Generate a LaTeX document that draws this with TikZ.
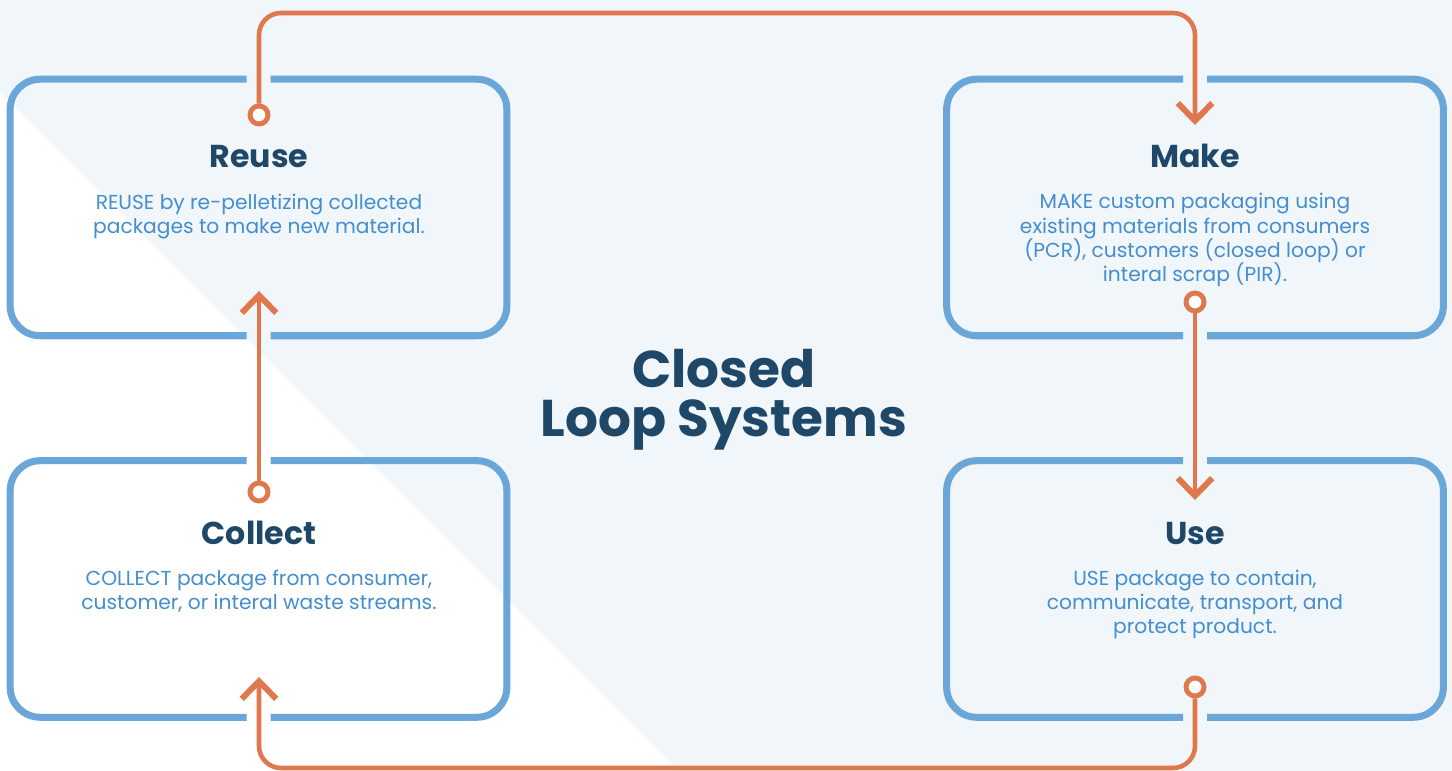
\documentclass[tikz,border=0pt]{standalone}
\usepackage{fontspec}
\setmainfont{Poppins}
\usetikzlibrary{arrows.meta,calc}
\definecolor{bgblue}{HTML}{F1F6FB}
\definecolor{boxblue}{HTML}{6BA6D8}
\definecolor{orng}{HTML}{E0784E}
\definecolor{navy}{HTML}{1F4767}
\definecolor{txtblue}{HTML}{448ECF}
\tikzset{
  box/.style={rectangle, minimum width=4.95cm, minimum height=2.55cm, inner sep=0pt},
  boxline/.style={draw=boxblue, line width=2pt, rounded corners=0.3cm},
  ttl/.style={font=\bfseries\fontsize{9}{11}\selectfont, text=navy, anchor=base},
  body/.style={font=\fontsize{5.75}{6.95}\selectfont, text=txtblue, align=center, anchor=base},
  conn/.style={draw=orng, line width=1.3pt, rounded corners=0.22cm},
  dot/.style={circle, draw=orng, fill=white, line width=1.4pt, minimum size=0.18cm, inner sep=0pt},
  tip/.style={-{Straight Barb[length=5pt,width=9.8pt,line width=1.7pt,sharp]}}
}
\newcommand\borderwithgaps[1]{%
  \draw[boxline] ($(#1.north)+(12,0)$) -| (#1.south east) -- ($(#1.south)+(12,0)$);
  \draw[boxline] ($(#1.south)-(12,0)$) -| (#1.north west) -- ($(#1.north)-(12,0)$);}
\begin{document}
\begin{tikzpicture}[x=0.01cm,y=-0.01cm]
\fill[bgblue] (0,0) rectangle (1452,771);
\fill[white] (0,92) -- (679,771) -- (0,771) -- cycle;
\useasboundingbox (0,0) rectangle (1452,771);

% boxes
\node[box] (reuse) at (258.5,207.5) {};
\node[box] (make) at (1195,207.5) {};
\node[box] (collect) at (258.5,589) {};
\node[box] (use) at (1195,589) {};
\borderwithgaps{reuse}
\borderwithgaps{make}
\borderwithgaps{collect}
\borderwithgaps{use}

% connector ends
\node[dot] (reuse-out) at (259,115) {};
\node[dot] (make-out) at (1195,302) {};
\node[dot] (use-out) at (1195,687) {};
\node[dot] (collect-out) at (259,492) {};
\coordinate (make-in) at (1195,125);
\coordinate (use-in) at (1195,500);
\coordinate (collect-in) at (259,677);
\coordinate (reuse-in) at (259,291);
\coordinate (toprail) at (0,13);
\coordinate (botrail) at (0,768);

\draw[conn,tip] (reuse-out.north) -- (reuse-out.north |- toprail) -- (make-in |- toprail) -- (make-in);
\draw[conn,tip] (make-out.south) -- (use-in);
\draw[conn,tip] (use-out.south) -- (use-out.south |- botrail) -- (collect-in |- botrail) -- (collect-in);
\draw[conn,tip] (collect-out.north) -- (reuse-in);

% texts (anchor base = baseline of the last line)
\node[ttl] (reuse-title) at (259,168) {Reuse};
\node[body] (reuse-text) at (259,234) {REUSE by re-pelletizing collected\\packages to make new material.};
\node[ttl] (make-title) at (1195,168) {Make};
\node[body] (make-text) at (1195,282) {MAKE custom packaging using\\existing materials from consumers\\(PCR), customers (closed loop) or\\interal scrap (PIR).};
\node[ttl] (collect-title) at (259,545) {Collect};
\node[body] (collect-text) at (259,610) {COLLECT package from consumer,\\customer, or interal waste streams.};
\node[ttl] (use-title) at (1195,545) {Use};
\node[body] (use-text) at (1195,634) {USE package to contain,\\communicate, transport, and\\protect product.};

\node[font=\bfseries\fontsize{14.7}{14.2}\selectfont, text=navy, align=center, anchor=base] (title) at (724,437) {Closed\\Loop Systems};
\end{tikzpicture}
\end{document}
